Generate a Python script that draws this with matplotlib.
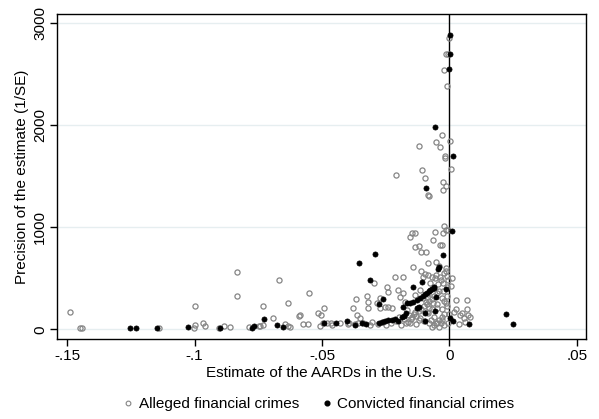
import numpy as np
import matplotlib
matplotlib.use("Agg")
import matplotlib.pyplot as plt
from matplotlib.lines import Line2D

plt.rcParams['font.family'] = ['Liberation Sans', 'DejaVu Sans']

# alleged financial crimes (estimate, precision)
alleged_x = [-0.1491, -0.1448, -0.1441, -0.1141, -0.1, -0.1004, -0.0997, -0.0969, -0.0958, -0.0906,
             -0.0886, -0.086, -0.0834, -0.0834, -0.0788, -0.0749, -0.0742, -0.073, -0.073, -0.0693,
             -0.0668, -0.0635, -0.0644, -0.0635, -0.0625, -0.0592,
             -0.0586, -0.0573, -0.0557, -0.0553, -0.0514, -0.0505, -0.0492, -0.0508, -0.0497, -0.0482,
             -0.0466, -0.0393, -0.038, -0.0367, -0.0362, -0.0358, -0.0351, -0.0325, -0.0319, -0.0321,
             -0.0305, -0.0296, -0.0286, -0.0273, -0.0273, -0.026, -0.0253, -0.0244, -0.024, -0.024,
             -0.0227, -0.0214, -0.0201, -0.0195, -0.0181, -0.0181, -0.0175, -0.0168, -0.0162, -0.0155,
             -0.0149, -0.0142, -0.0136, -0.0136, -0.0155, -0.0149, -0.0136, -0.0136, -0.012, -0.0123,
             -0.0116, -0.0114, -0.011, -0.0094, -0.011, -0.0103, -0.0095, -0.0093, -0.0084, -0.0084,
             -0.0084, -0.0077, -0.0074, -0.007, -0.007, -0.0064, -0.0064, -0.0057, -0.0051, -0.0051,
             -0.0051, -0.0048, -0.0042, -0.004, -0.0038, -0.0038, -0.0031, -0.0031, -0.0027, -0.0027,
             -0.0022, -0.002, -0.0014, -0.0012, -0.0012, -0.0012, -0.0005, -0.0009, -0.0005, 0.001,
             0.0004, 0.0017, 0.0027, 0.0027, 0.0038, 0.0043, 0.0051, 0.0056, 0.0067, 0.0067,
             0.0073, 0.0081, 0.006,
             0.0, -0.0012, -0.0005, -0.0022, -0.001, -0.0029, 0.0001, -0.0054, -0.0038, -0.0121,
             -0.0018, -0.0016, 0.0004, -0.0108, -0.0097, -0.0208, -0.0027, -0.0012, -0.0025, -0.0085,
             -0.0079,
             -0.02, -0.018, -0.016, -0.014, -0.013, -0.012, -0.011, -0.01, -0.009, -0.008,
             -0.007, -0.006, -0.005, -0.004, -0.003, -0.002, -0.001, -0.002, -0.003, -0.004,
             -0.005, -0.006, -0.008, -0.01, -0.012, -0.015, -0.017, -0.019, -0.021, -0.023,
             -0.025, -0.028, -0.031, -0.034, -0.037, -0.04, -0.043, -0.046, -0.013, -0.009,
             -0.007, -0.005, -0.003, -0.001, 0.0, -0.0005, -0.002, -0.0035, -0.006, -0.008,
             -0.0105, -0.0085, -0.0065, -0.0045, -0.0035, -0.001, -0.0055, -0.0025]
alleged_y = [173, 10, 16, 16, 229, 10, 42, 59, 36, 10,
             33, 26, 559, 327, 26, 33, 33, 232, 42, 108,
             484, 261, 52, 33, 20, 131,
             140, 52, 52, 353, 157, 140, 206, 33, 59, 59,
             59, 59, 206, 297, 140, 65, 108, 327, 271, 206,
             72, 451, 255, 310, 206, 75, 222, 412, 369, 222,
             206, 516, 386, 320, 516, 359, 271, 190, 75, 59,
             124, 614, 337, 173, 902, 941, 941, 810, 820, 206,
             386, 108, 755, 755, 572, 516, 542, 271, 650, 533,
             157, 451, 92, 516, 26, 876, 255, 951, 657, 533,
             59, 206, 624, 26, 827, 516, 827, 92, 941, 451,
             555, 1016, 598, 974, 575, 255, 974, 418, 484, 506,
             425, 173, 196, 288, 52, 140, 157, 108, 288, 196,
             140, 124, 75,
             2860, 2703, 2703, 2543, 2386, 1902, 1843, 1833, 1791, 1800,
             1699, 1676, 1569, 1562, 1487, 1516, 1441, 1408, 1366, 1320,
             1307,
             120, 100, 140, 150, 130, 180, 200, 230, 250, 280,
             300, 330, 360, 380, 310, 280, 230, 150, 120, 90,
             60, 40, 60, 80, 90, 100, 60, 40, 80, 60,
             40, 55, 45, 60, 50, 55, 60, 40, 50, 170,
             200, 250, 200, 330, 150, 60, 40, 60, 120, 210,
             310, 350, 420, 440, 480, 520, 500, 380]

# convicted financial crimes
convicted_x = [-0.1252, -0.123, -0.1148, -0.1027, -0.0899, -0.0775, -0.0766, -0.0726, -0.0675, -0.0652,
               0.0003, 0.0001, 0.0, -0.0056, 0.0012, -0.0093, 0.0008, -0.0292, -0.0354, -0.0027,
               -0.0043, -0.0046, -0.031, -0.0108, -0.0142, -0.0014, -0.0051, -0.0275, -0.026, -0.0184,
               -0.0166, 0.0223, 0.0249, 0.0077, 0.0001, 0.0014, -0.0057, -0.0097, -0.0097,
               -0.0492, -0.0445, -0.0403, -0.037, -0.0345, -0.0329, -0.0275, -0.0266, -0.0253, -0.024,
               -0.0227, -0.0214, -0.0201, -0.0188, -0.0179, -0.0171, -0.0129, -0.0119,
               -0.0155, -0.0142, -0.0128, -0.0115, -0.0105, -0.0095, -0.0088, -0.0082, -0.0075, -0.0068,
               -0.0062, -0.006]
convicted_y = [10, 10, 10, 20, 10, 16, 33, 101, 42, 20,
               2886, 2703, 2549, 1980, 1696, 1382, 964, 739, 650, 732,
               614, 588, 484, 464, 412, 392, 320, 245, 294, 216,
               255, 147, 49, 52, 108, 85, 183, 163, 85,
               65, 65, 82, 42, 65, 49, 65, 75, 82, 88,
               92, 98, 85, 120, 134, 157, 206, 216,
               255, 270, 290, 305, 325, 345, 360, 375, 390, 400,
               410, 418]

fig = plt.figure(figsize=(5.99, 4.19), dpi=100)
ax = fig.add_axes([0.0952, 0.190, 0.8828, 0.7766])

ax.set_xlim(-0.154, 0.0535)
ax.set_ylim(-98, 3091)

for yv in [0, 1000, 2000, 3000]:
    ax.axhline(yv, color='#e6eef0', lw=1.0, zorder=0)
ax.axvline(0, color='black', lw=1.0, zorder=1)

ax.plot(alleged_x, alleged_y, 'o', ls='none', ms=3.7, mfc='none', mec='#858585', mew=0.9, zorder=2)
ax.plot(convicted_x, convicted_y, 'o', ls='none', ms=3.7, mfc='black', mec='black', mew=0.5, zorder=3)

ax.set_xticks([-0.15, -0.1, -0.05, 0, 0.05])
ax.set_xticklabels(['-.15', '-.1', '-.05', '0', '.05'])
ax.set_yticks([0, 1000, 2000, 3000])
ax.set_yticklabels(['0', '1000', '2000', '3000'], rotation=90, va='center')
ax.tick_params(direction='out', length=5, width=1, labelsize=11, colors='black', pad=2)

for s in ax.spines.values():
    s.set_linewidth(1.0)

ax.set_xlabel('Estimate of the AARDs in the U.S.', fontsize=11, labelpad=2)
ax.set_ylabel('Precision of the estimate (1/SE)', fontsize=11, labelpad=3)

handles = [Line2D([], [], marker='o', ls='none', ms=3.4, mfc='none', mec='#858585', mew=0.8),
           Line2D([], [], marker='o', ls='none', ms=3.4, mfc='black', mec='black')]
fig.legend(handles, ['Alleged financial crimes', 'Convicted financial crimes'],
           loc='center', bbox_to_anchor=(0.53, 0.035), ncol=2, frameon=False,
           fontsize=11, handletextpad=0.2, columnspacing=1.3, handlelength=1.0)

fig.savefig('out.png', dpi=100)
